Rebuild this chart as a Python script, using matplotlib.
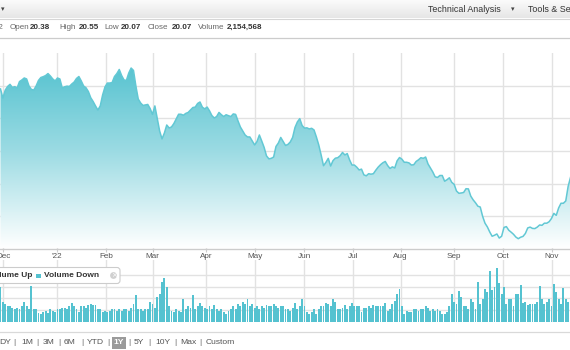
import numpy as np
import matplotlib
matplotlib.use("Agg")
import matplotlib.pyplot as plt
from matplotlib.patches import Rectangle, FancyBboxPatch, Circle, Polygon
from matplotlib.colors import LinearSegmentedColormap

# ---------------- data ----------------
prices = [
    25.80, 25.24, 25.73, 25.95, 26.08, 25.89, 25.94, 25.86, 26.25, 26.35,
    26.47, 26.41, 25.98, 25.77, 25.73, 25.98, 26.32, 26.50, 26.55, 26.62,
    26.74, 26.59, 26.41, 26.29, 26.47, 26.41, 25.86, 25.93, 25.97, 25.95,
    26.10, 26.22, 26.44, 26.56, 26.29, 25.98, 25.87, 25.64, 25.26, 25.03,
    24.76, 24.51, 24.76, 25.43, 25.92, 26.16, 26.16, 26.19, 26.56, 26.74,
    26.99, 26.62, 26.35, 26.32, 26.77, 27.08, 26.93, 25.98, 25.18, 24.94,
    24.79, 24.82, 24.85, 24.60, 24.24, 24.76, 24.00, 23.23, 22.74, 23.10,
    23.59, 23.41, 23.47, 23.68, 23.96, 24.25, 24.25, 24.19, 24.30, 24.36,
    24.51, 24.66, 24.69, 24.91, 25.00, 24.68, 24.58, 24.69, 24.46, 24.17,
    24.02, 24.11, 24.36, 24.22, 24.11, 24.22, 24.16, 24.11, 24.27, 24.24,
    23.84, 23.47, 23.23, 22.98, 22.86, 22.86, 22.61, 22.37, 22.58, 22.98,
    22.61, 22.22, 21.70, 21.52, 21.55, 21.63, 22.28, 22.49, 22.83, 22.58,
    22.34, 22.40, 22.55, 22.83, 23.44, 23.78, 23.98, 23.56, 23.40, 23.42,
    23.35, 23.39, 23.29, 22.86, 22.37, 21.76, 21.10, 21.30, 21.55, 21.08,
    21.41, 21.56, 21.59, 21.71, 21.91, 21.76, 21.84, 21.45, 21.14, 21.14,
    21.01, 20.84, 20.89, 20.54, 20.48, 20.61, 20.58, 20.61, 20.82, 21.01,
    21.16, 21.28, 21.36, 21.11, 20.93, 21.03, 20.96, 21.40, 21.60, 21.50,
    21.31, 21.31, 21.27, 21.14, 21.16, 21.36, 21.46, 21.59, 21.55, 21.63,
    21.21, 20.96, 20.72, 20.42, 20.38, 20.50, 20.50, 20.15, 20.24, 20.36,
    20.08, 19.96, 19.55, 19.41, 19.43, 19.46, 19.69, 19.68, 19.24, 19.01,
    18.83, 18.62, 18.57, 18.00, 17.58, 17.35, 17.04, 16.78, 16.84, 16.92,
    16.67, 16.78, 17.32, 17.37, 17.15, 17.03, 16.90, 16.73, 16.63, 16.72,
    16.77, 16.95, 17.29, 17.34, 17.26, 17.25, 17.34, 17.47, 17.45, 17.58,
    17.58, 17.67, 17.87, 18.18, 18.06, 18.51, 18.80, 18.80, 18.94, 19.83, 20.38,
]

volumes_m = [
    6.0, 3.4, 3.1, 2.7, 2.6, 2.4, 2.2, 2.4, 2.2, 2.6,
    3.4, 2.7, 2.1, 6.1, 2.1, 2.1, 1.5, 1.4, 1.7, 1.9,
    1.5, 2.1, 1.9, 1.7, 2.2, 2.1, 2.4, 2.4, 2.2, 2.6,
    3.2, 2.6, 2.1, 1.7, 2.7, 2.6, 2.4, 2.9, 3.1, 2.9,
    2.9, 2.1, 2.1, 1.7, 1.9, 1.7, 1.9, 2.1, 2.1, 1.9,
    2.1, 1.9, 2.1, 2.2, 1.9, 2.4, 3.1, 4.6, 2.1, 2.2,
    1.9, 2.1, 2.1, 3.4, 3.1, 2.4, 4.3, 4.8, 6.8, 7.5,
    6.0, 2.6, 1.9, 1.7, 2.1, 1.9, 1.7, 3.8, 2.2, 2.6,
    2.4, 4.6, 2.2, 2.7, 3.2, 2.6, 2.4, 2.2, 2.7, 2.2,
    2.9, 2.1, 1.9, 2.1, 1.7, 1.4, 1.9, 2.1, 2.7, 2.2,
    3.1, 2.6, 3.4, 3.1, 3.8, 2.7, 3.1, 2.4, 2.7, 2.1,
    2.6, 2.4, 2.9, 2.6, 2.7, 3.1, 2.6, 2.4, 2.6, 2.7,
    2.2, 2.1, 1.9, 2.4, 3.2, 2.1, 2.6, 3.9, 2.7, 1.7,
    1.4, 1.7, 2.1, 1.4, 2.1, 2.7, 2.6, 3.2, 3.1, 2.7,
    3.8, 3.4, 2.1, 2.1, 2.4, 2.9, 2.2, 2.6, 3.2, 2.6,
    2.6, 2.6, 1.7, 2.4, 2.4, 2.7, 2.4, 2.9, 2.7, 2.7,
    2.7, 2.7, 3.2, 1.9, 2.2, 3.1, 3.6, 4.8, 5.6, 2.7,
    1.4, 1.9, 1.7, 1.7, 2.1, 2.1, 1.9, 2.1, 2.2, 2.7,
    2.4, 1.9, 2.1, 1.9, 2.1, 1.9, 1.4, 1.4, 1.7, 2.7,
    4.8, 3.4, 3.1, 5.3, 4.3, 2.7, 2.6, 2.1, 3.8, 3.4,
    2.1, 6.8, 3.1, 3.9, 5.6, 5.1, 8.7, 5.5, 6.0, 9.2,
    6.7, 4.8, 6.0, 3.1, 3.9, 3.9, 2.6, 4.8, 4.8, 6.3,
    3.2, 3.4, 2.9, 3.1, 3.1, 3.1, 3.4, 6.1, 3.8, 3.1,
    3.4, 3.8, 2.6, 6.5, 5.1, 3.8, 3.1, 5.8, 3.8, 3.4, 7.2,
]

month_labels = ["Dec", "'22", "Feb", "Mar", "Apr", "May", "Jun", "Jul", "Aug", "Sep", "Oct", "Nov"]
month_pos = [1.18, 23.92, 44.42, 64.08, 86.53, 107.28, 127.79, 148.55, 168.51, 190.95, 211.45, 232.21]

ohlc_labels = ["Open", "High", "Low", "Close", "Volume"]
ohlc_values = ["20.38", "20.55", "20.07", "20.07", "2,154,568"]
ranges = ["DY", "1M", "3M", "6M", "YTD", "1Y", "5Y", "10Y", "Max", "Custom"]

# ---------------- layout ----------------
W, H = 570, 350
FONT = "Liberation Sans"
plt.rcParams["font.family"] = [FONT, "DejaVu Sans"]

fig = plt.figure(figsize=(W / 100, H / 100), dpi=100)
fig.patch.set_facecolor("white")


def rect(x0, y0, x1, y1):
    return [x0 / W, 1 - y1 / H, (x1 - x0) / W, (y1 - y0) / H]


XLIM = (-0.21, 239.79)
GRID = "#e2e2e2"

# ---- price panel ----
ax = fig.add_axes(rect(0, 53, 570, 248.5))
x = np.arange(len(prices))
ymin, ymax = 16.03, 28.0
ax.set_xlim(*XLIM)
ax.set_ylim(ymin, ymax)
ax.set_axisbelow(True)
ax.set_yticks([18, 20, 22, 24, 26])
ax.set_xticks(month_pos)
ax.set_xticklabels(month_labels)
ax.grid(True, color=GRID, lw=1.0)
ax.tick_params(axis="y", length=0, labelleft=False)
ax.tick_params(axis="x", length=2.5, width=0.8, color="#cccccc", pad=1.0,
               labelsize=5.9, labelcolor="#555555")
for s in ["top", "left", "right"]:
    ax.spines[s].set_visible(False)
ax.spines["bottom"].set_color("#cccccc")
ax.spines["bottom"].set_linewidth(1.0)

cmap = LinearSegmentedColormap.from_list("g", ["#ffffff", "#9bdbe3", "#4cbfcd"])
grad = np.linspace(0, 1, 256).reshape(-1, 1)
im = ax.imshow(grad, extent=[XLIM[0], XLIM[1], ymin, ymax], origin="lower",
               aspect="auto", cmap=cmap, zorder=2)
verts = np.column_stack([np.r_[x[0], x, x[-1]], np.r_[ymin, prices, ymin]])
clip = Polygon(verts, closed=True, transform=ax.transData, fc="none", ec="none")
ax.add_patch(clip)
im.set_clip_path(clip)
ax.plot(x, prices, color="#62c8d4", lw=1.1, zorder=3, solid_joinstyle="round")
ax.set_xlim(*XLIM)
ax.set_ylim(ymin, ymax)

# ---- volume panel ----
ax2 = fig.add_axes(rect(0, 260, 570, 321.7))
ax2.bar(np.arange(len(volumes_m)), volumes_m, width=0.74, color="#55c2d0",
        edgecolor="none", zorder=2)
ax2.set_xlim(*XLIM)
ax2.set_ylim(0, 10.55)
ax2.set_axisbelow(True)
ax2.set_yticks([2, 4, 6, 8])
ax2.set_xticks(month_pos)
ax2.grid(True, color=GRID, lw=1.0)
ax2.tick_params(length=0, labelleft=False, labelbottom=False)
for s in ["top", "left", "right", "bottom"]:
    ax2.spines[s].set_visible(False)

# ---- overlay for page furniture ----
ov = fig.add_axes([0, 0, 1, 1], zorder=10)
ov.set_xlim(0, W)
ov.set_ylim(H, 0)
ov.axis("off")
ov.patch.set_alpha(0)

# header bar
hcmap = LinearSegmentedColormap.from_list("h", ["#fbfbfb", "#e6e6e6"])
ov.imshow(np.linspace(0, 1, 64).reshape(-1, 1), extent=[0, W, 18, 0],
          cmap=hcmap, aspect="auto", zorder=1)
ov.plot([0, W], [18.5, 18.5], color="#d6d6d6", lw=0.8, zorder=2)
ov.text(2.7, 9, "\u25be", fontsize=5, color="#444444", ha="center", va="center",
        family=["DejaVu Sans"])
ov.text(428, 9.5, "Technical Analysis", fontsize=6.4, color="#333333", va="center")
ov.text(513, 9.5, "\u25be", fontsize=5, color="#444444", ha="center", va="center",
        family=["DejaVu Sans"])
ov.text(528, 9.5, "Tools & Settings", fontsize=6.4, color="#333333", va="center",
        clip_on=True)

# OHLC row
ty = 27.8
ov.text(3.6, ty, "2022", fontsize=5.8, color="#666666", ha="right", va="center")
lab_x = [10, 59, 104, 148, 198]
val_x = [29.5, 79, 121, 172, 227]
for lx, vx, lab, val in zip(lab_x, val_x, ohlc_labels, ohlc_values):
    ov.text(lx, ty, lab, fontsize=5.8, color="#666666", va="center")
    ov.text(vx, ty, val, fontsize=5.8, color="#333333", va="center", fontweight="bold")
ov.plot([0, W], [37.7, 37.7], color="#cccccc", lw=0.9)

# volume legend
ov.add_patch(FancyBboxPatch((-6, 267.5), 126, 16, boxstyle="round,pad=0,rounding_size=3",
                            fc="white", ec="#cccccc", lw=0.8, zorder=3))
ov.text(32.5, 275.8, "Volume Up", fontsize=6.0, color="#333333", ha="right",
        va="center", fontweight="bold", zorder=4)
ov.add_patch(Rectangle((36, 273.5), 4.5, 4.5, fc="#55c2d0", ec="none", zorder=4))
ov.text(44.5, 275.8, "Volume Down", fontsize=6.0, color="#333333", va="center",
        fontweight="bold", zorder=4)
ov.add_patch(Circle((113.5, 275.5), 3.4, fc="#d0d0d0", ec="none", zorder=4))
ov.text(113.5, 275.5, "\u00d7", fontsize=5, color="white", ha="center", va="center",
        family=["DejaVu Sans"], zorder=5)

# bottom separator
ov.plot([0, W], [331.7, 331.7], color="#d9d9d9", lw=0.9)

# range selector
ry = 343
rx = [-0.5, 21, 43, 64, 87, 113.5, 134, 155, 180, 206]
for px, lab in zip(rx, ranges):
    if lab == "1Y":
        ov.add_patch(Rectangle((112, 337), 14, 12, fc="#9a9a9a", ec="none", zorder=3))
        ov.text(px, ry, lab, fontsize=6.1, color="white", va="center",
                fontweight="bold", zorder=4)
    else:
        ov.text(px, ry, lab, fontsize=6.1, color="#555555", va="center")
for px in [14, 37, 59, 82, 108, 129, 149, 175, 200]:
    ov.text(px, ry, "|", fontsize=6.1, color="#777777", va="center", ha="center")

fig.savefig("out.png", dpi=100, facecolor="white")
